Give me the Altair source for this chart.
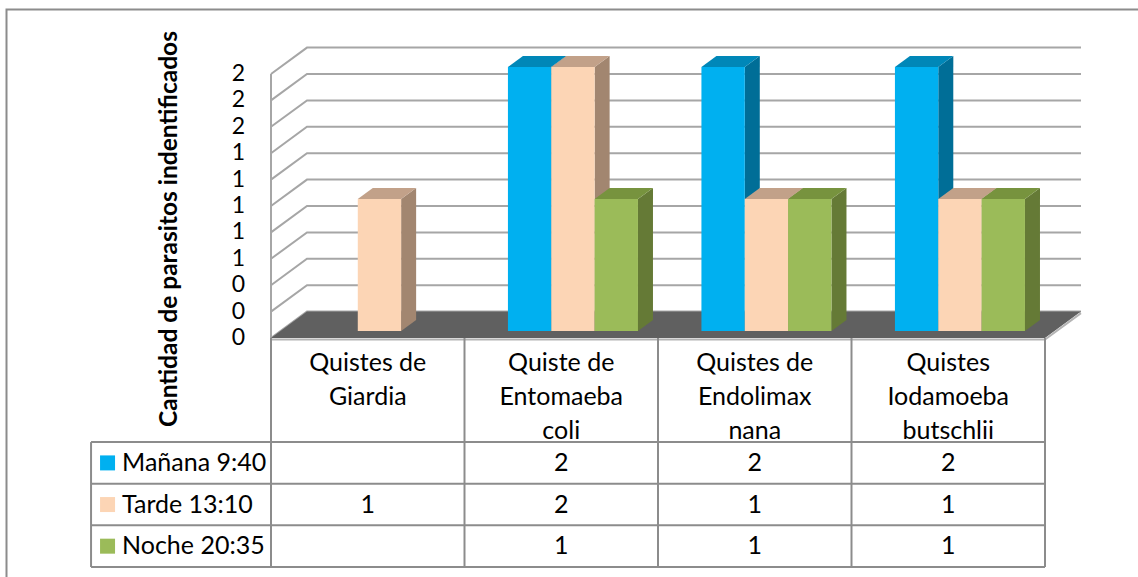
import altair as alt
import pandas as pd

# ---- data -----------------------------------------------------------------
categorias = [
    "Quistes de\nGiardia",
    "Quiste de\nEntomaeba\ncoli",
    "Quistes de\nEndolimax\nnana",
    "Quistes\nIodamoeba\nbutschlii",
]
series = ["Mañana 9:40", "Tarde 13:10", "Noche 20:35"]
manana = [None, 2, 2, 2]
tarde = [1, 2, 1, 1]
noche = [None, 1, 1, 1]
ticks = [0, 0.2, 0.4, 0.6, 0.8, 1.0, 1.2, 1.4, 1.6, 1.8, 2.0]
titulo_y = "Cantidad de parasitos indentificados"

# ---- style ----------------------------------------------------------------
FONT = "Lato"
FRONT = ["#00B0F0", "#FCD5B5", "#9BBB59"]
TOP = ["#0087B8", "#C2A189", "#77933E"]
SIDE = ["#006E97", "#A28670", "#657A36"]
GRID = "#a6a6a6"
LINE = "#8c8c8c"

# pseudo 3-D projection: x in category units, y in value units
DX = 0.186       # horizontal shift across the full floor depth
DY = 0.2         # vertical shift across the full floor depth
D_FRONT = 0.266  # depth of the bars' front face
D_BACK = 0.683   # depth of the bars' back face
BAR_W = 0.224    # bar width (category units)
INSET = 0.175    # left inset of each bar group inside its category
N = len(categorias)
LEG_LEFT = -0.93  # left border of the legend column of the data table

X = alt.Scale(domain=[0, N], range=[271, 1045], zero=False, nice=False)
YV = alt.Scale(domain=[0, 2], range=[338, 74], zero=False, nice=False)
YT = alt.Scale(domain=[-2.5, 3], range=[338, 567], zero=False, nice=False)

valores = {series[0]: manana, series[1]: tarde, series[2]: noche}

# ---- geometry tables derived from the values ------------------------------
front_rows, side_rows, top_rows = [], [], []
for j, s in enumerate(series):
    for i, v in enumerate(valores[s]):
        if v is None:
            continue
        x0 = i + INSET + j * BAR_W
        bid = f"{i}-{j}"
        front_rows.append(dict(bar=bid, serie=s, valor=v,
                               x=x0 + D_FRONT * DX, x2=x0 + BAR_W + D_FRONT * DX,
                               y=D_FRONT * DY, y2=v + D_FRONT * DY))
        for d in (D_FRONT, D_BACK):
            side_rows.append(dict(bar=bid, serie=s, x=x0 + BAR_W + d * DX,
                                  y=d * DY, y2=v + d * DY))
            top_rows.append(dict(bar=bid, serie=s, y=v + d * DY,
                                 x=x0 + d * DX, x2=x0 + BAR_W + d * DX))
front_df = pd.DataFrame(front_rows)
side_df = pd.DataFrame(side_rows)
top_df = pd.DataFrame(top_rows)

grid_rows = []
for t in ticks:
    grid_rows += [dict(t=t, o=0, x=0, y=t),
                  dict(t=t, o=1, x=DX, y=t + DY),
                  dict(t=t, o=2, x=N + DX, y=t + DY)]
grid_df = pd.DataFrame(grid_rows)

floor_df = pd.DataFrame([dict(y=0, x=0, x2=N), dict(y=DY, x=DX, x2=N + DX)])
edge_df = pd.DataFrame([dict(o=0, x=0, y=0), dict(o=1, x=N, y=0),
                        dict(o=2, x=N + DX, y=DY)])
wall_df = pd.DataFrame([dict(x=0, y=0, y2=ticks[-1])])
ticks_df = pd.DataFrame(dict(t=ticks, x=0))
one = pd.DataFrame(dict(k=[0]))


def col(scale_range):
    return alt.Color("serie:N", scale=alt.Scale(domain=series, range=scale_range),
                     legend=None)


def xq(field="x"):
    return alt.X(f"{field}:Q", scale=X, axis=None)


def yv(field="y", **kw):
    return alt.Y(f"{field}:Q", scale=YV, axis=None, **kw)


def yt(field="y"):
    return alt.Y(f"{field}:Q", scale=YT, axis=None)


# ---- chart frame ----------------------------------------------------------
frame = alt.Chart(one).mark_rect(fillOpacity=0, stroke=LINE, strokeWidth=2).encode(
    x=alt.value(6.5), x2=alt.value(1300), y=alt.value(9.5), y2=alt.value(800))

# ---- walls, gridlines and floor ---------------------------------------------
grid = alt.Chart(grid_df).mark_line(color=GRID, strokeWidth=2).encode(
    x=xq(), y=yv(), detail="t:N", order="o:Q")

wall = alt.Chart(wall_df).mark_rule(color=GRID, strokeWidth=2).encode(
    x=xq(), y=yv(), y2="y2:Q")

floor = alt.Chart(floor_df).mark_area(orient="horizontal", color="#606060").encode(
    y=yv(), x=alt.X("x:Q", scale=X, axis=None, stack=None), x2="x2:Q")

floor_edge = alt.Chart(edge_df).mark_line(color="#b4b4b4", strokeWidth=2, yOffset=1.5).encode(
    x=xq(), y=yv(), order="o:Q")

# ---- 3-D columns ----------------------------------------------------------
sides = alt.Chart(side_df).mark_area(orient="vertical").encode(
    x=xq(), y=yv(stack=None), y2="y2:Q", detail="bar:N", color=col(SIDE))

fronts = alt.Chart(front_df).mark_rect().encode(
    x=xq(), x2="x2:Q", y=yv(), y2="y2:Q", color=col(FRONT))

tops = alt.Chart(top_df).mark_area(orient="horizontal").encode(
    y=yv(), x=alt.X("x:Q", scale=X, axis=None, stack=None), x2="x2:Q",
    detail="bar:N", color=col(TOP))

# ---- value axis labels and title ------------------------------------------
ylabels = alt.Chart(ticks_df).mark_text(
    align="right", baseline="middle", dx=-26, font=FONT, fontSize=23, color="#000"
).encode(x=xq(), y=yv("t"), text=alt.Text("t:Q", format=".0f"))

ytitle = alt.Chart(one).mark_text(
    angle=270, align="center", baseline="middle", font=FONT, fontSize=24.5,
    fontWeight="bold", color="#000", text=titulo_y
).encode(x=alt.value(170), y=alt.value(229))

# ---- data table -----------------------------------------------------------
hlines = pd.DataFrame(dict(y=[0, 1, 2, 3], x=LEG_LEFT, x2=N))
vlines = pd.DataFrame(dict(x=[LEG_LEFT] + list(range(N + 1)),
                           y=[0] + [-2.5] * (N + 1), y2=3))
header_df = pd.DataFrame(dict(x=[i + 0.5 for i in range(N)], cat=categorias, y=-1.7))
cell_rows = []
for r, s in enumerate(series):
    for i, v in enumerate(valores[s]):
        if v is not None:
            cell_rows.append(dict(x=i + 0.5, y=r + 0.5, valor=v))
cells_df = pd.DataFrame(cell_rows)
legend_df = pd.DataFrame(dict(serie=series, y=[r + 0.5 for r in range(len(series))],
                              x=LEG_LEFT))

t_h = alt.Chart(hlines).mark_rule(color=LINE, strokeWidth=2).encode(
    x=xq(), x2="x2:Q", y=yt())
t_v = alt.Chart(vlines).mark_rule(color=LINE, strokeWidth=2).encode(
    x=xq(), y=yt(), y2="y2:Q")
t_head = alt.Chart(header_df).mark_text(
    align="center", baseline="alphabetic", lineBreak="\n", lineHeight=34,
    font=FONT, fontSize=25, color="#000"
).encode(x=xq(), y=yt(), text="cat:N")
t_cells = alt.Chart(cells_df).mark_text(
    align="center", baseline="middle", font=FONT, fontSize=25, color="#000"
).encode(x=xq(), y=yt(), text=alt.Text("valor:Q", format=".0f"))
t_sq = alt.Chart(legend_df).mark_square(size=225, opacity=1, xOffset=16.5).encode(
    x=xq(), y=yt(), color=col(FRONT))
t_lab = alt.Chart(legend_df).mark_text(
    align="left", baseline="middle", dx=31, font=FONT, fontSize=25, color="#000"
).encode(x=xq(), y=yt(), text="serie:N")

chart = alt.layer(
    frame, grid, wall, floor, floor_edge, sides, fronts, tops, ylabels, ytitle,
    t_h, t_v, t_head, t_cells, t_sq, t_lab,
).resolve_scale(y="independent", color="independent").properties(
    width=1138, height=577, padding=0,
    autosize=alt.AutoSizeParams(type="none"),
    background="white",
).configure_view(stroke=None)

chart.save("out.html", embed_options={"renderer": "svg", "actions": False})
